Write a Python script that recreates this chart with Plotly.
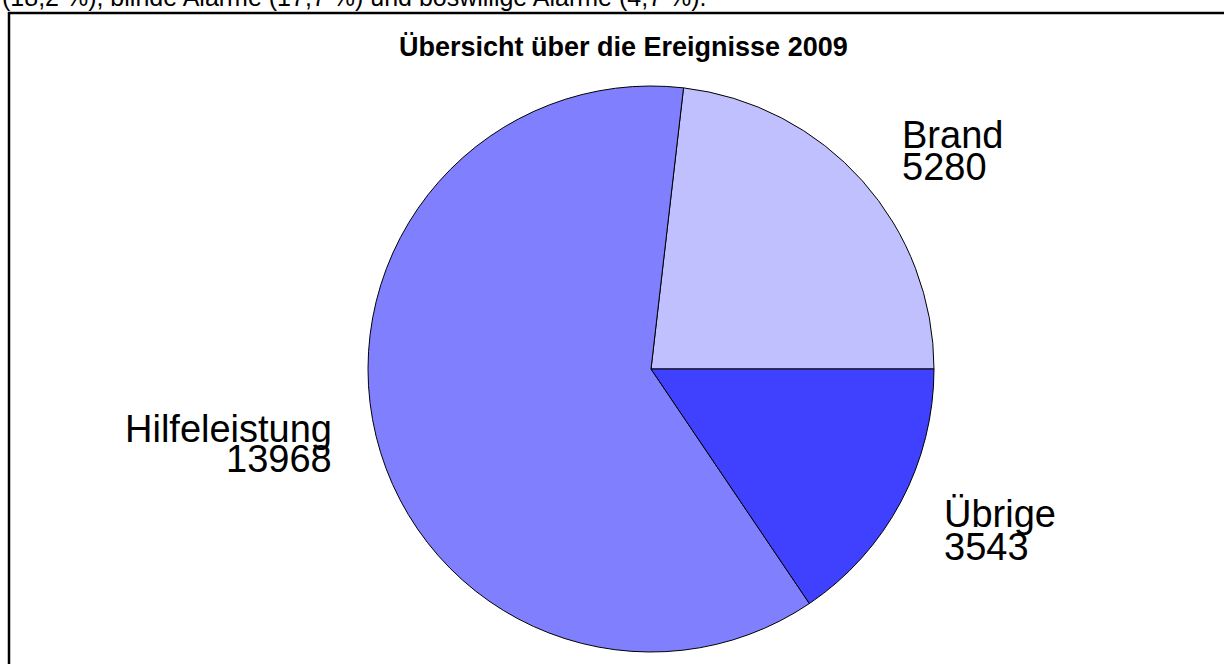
import plotly.graph_objects as go

W, H = 1224, 664

categories = ["Brand", "Hilfeleistung", "Übrige"]
values = [5280, 13968, 3543]
colors = ["#C0C0FF", "#8080FF", "#4040FF"]
title_text = "Übersicht über die Ereignisse 2009"
top_text = "(18,2 %), blinde Alarme (17,7 %) und böswillige Alarme (4,7 %)."

def px(x):
    return x / W

def py(y):
    return 1 - y / H

# first slice (Brand) ends at 3 o'clock; following slices go counterclockwise
start_rot = 90 - 360 * values[0] / sum(values)

fig = go.Figure(go.Pie(
    labels=categories,
    values=values,
    sort=False,
    direction="counterclockwise",
    rotation=start_rot,
    marker=dict(colors=colors, line=dict(color="black", width=1)),
    textinfo="none",
    hoverinfo="label+value",
    domain=dict(x=[px(368), px(934)], y=[py(652), py(86)]),
    showlegend=False,
))

font = "Liberation Sans, Arial, sans-serif"
ann = []
label_pos = {
    "Brand": dict(x=900, y1=135, y2=167, align="left"),
    "Hilfeleistung": dict(x=334, y1=429, y2=459, align="right"),
    "Übrige": dict(x=942, y1=514, y2=547, align="left"),
}
for cat, val in zip(categories, values):
    p = label_pos[cat]
    for txt, yy in ((cat, p["y1"]), (str(val), p["y2"])):
        ann.append(dict(
            text=txt, x=px(p["x"]), y=py(yy), xref="paper", yref="paper",
            xanchor=p["align"], yanchor="middle", showarrow=False,
            font=dict(family=font, size=38, color="black"),
        ))

ann.append(dict(
    text="<b>" + title_text + "</b>", x=px(623), y=py(47), xref="paper", yref="paper",
    xanchor="center", yanchor="middle", showarrow=False,
    font=dict(family=font, size=27, color="black"),
))
ann.append(dict(
    text=top_text, x=px(0), y=py(-3), xref="paper", yref="paper",
    xanchor="left", yanchor="middle", showarrow=False,
    font=dict(family=font, size=25, color="black"),
))

fig.update_layout(
    width=W, height=H,
    margin=dict(l=0, r=0, t=0, b=0),
    paper_bgcolor="white",
    plot_bgcolor="white",
    annotations=ann,
    shapes=[dict(
        type="rect", xref="paper", yref="paper",
        x0=px(9), x1=px(1240), y0=py(13), y1=py(700),
        line=dict(color="black", width=2.5), fillcolor="rgba(0,0,0,0)",
    )],
)

fig.write_html(
    "out.html",
    config={"displayModeBar": False},
    post_script="document.body.style.margin='0';document.body.style.overflow='hidden';",
)
